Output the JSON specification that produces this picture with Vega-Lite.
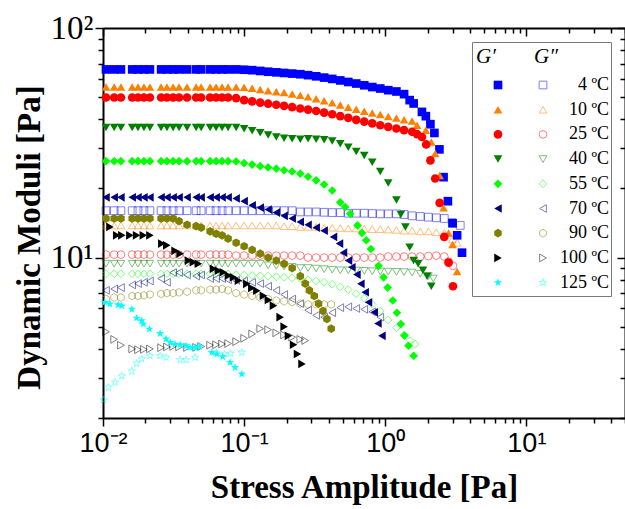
{
"$schema":"https://vega.github.io/schema/vega-lite/v6.json",
"width":522,"height":390,
"autosize":{"type":"none"},
"padding":{"left":103,"top":28,"right":0,"bottom":91},
"background":"white",
"config":{"view":{"stroke":null}},
"datasets":{
"gp":[
{"x":0.0105,"y":66,"t":4},{"x":0.012,"y":66,"t":4},{"x":0.0134,"y":66,"t":4},{"x":0.0161,"y":66,"t":4},{"x":0.0177,"y":66,"t":4},{"x":0.0195,"y":66,"t":4},{"x":0.0215,"y":66,"t":4},{"x":0.0258,"y":66,"t":4},{"x":0.0284,"y":66,"t":4},{"x":0.0314,"y":66,"t":4},{"x":0.0346,"y":66,"t":4},{"x":0.0394,"y":66,"t":4},{"x":0.0457,"y":66,"t":4},{"x":0.0496,"y":66,"t":4},{"x":0.0574,"y":66,"t":4},{"x":0.0633,"y":66,"t":4},{"x":0.0698,"y":66,"t":4},{"x":0.077,"y":66,"t":4},
{"x":0.0878,"y":66,"t":4},{"x":0.1,"y":65.8,"t":4},{"x":0.114,"y":65.5,"t":4},{"x":0.13,"y":65,"t":4},{"x":0.148,"y":64.5,"t":4},{"x":0.169,"y":64.1,"t":4},{"x":0.192,"y":63.7,"t":4},{"x":0.219,"y":63.3,"t":4},{"x":0.25,"y":62.9,"t":4},{"x":0.284,"y":62.3,"t":4},{"x":0.324,"y":61.6,"t":4},{"x":0.369,"y":60.8,"t":4},{"x":0.421,"y":60,"t":4},{"x":0.48,"y":59.1,"t":4},{"x":0.547,"y":58.2,"t":4},{"x":0.623,"y":57.3,"t":4},{"x":0.71,"y":56.3,"t":4},{"x":0.809,"y":55.3,"t":4},{"x":0.922,"y":54.5,"t":4},{"x":1.05,"y":53.6,"t":4},{"x":1.2,"y":52.9,"t":4},{"x":1.36,"y":51.5,"t":4},
{"x":1.49,"y":48.5,"t":4},{"x":1.59,"y":46.9,"t":4},{"x":1.82,"y":43.1,"t":4},{"x":1.94,"y":41.3,"t":4},{"x":2.09,"y":38.1,"t":4},{"x":2.23,"y":34.9,"t":4},{"x":2.42,"y":29.6,"t":4},{"x":2.59,"y":22.4,"t":4},{"x":2.78,"y":17.6,"t":4},{"x":3.0,"y":14.1,"t":4},{"x":3.23,"y":12.5,"t":4},{"x":3.5,"y":10.5,"t":4},
{"x":0.0105,"y":55.4,"t":10},{"x":0.012,"y":55.4,"t":10},{"x":0.0134,"y":55.4,"t":10},{"x":0.0161,"y":55.4,"t":10},{"x":0.0177,"y":55.4,"t":10},{"x":0.0195,"y":55.4,"t":10},{"x":0.0215,"y":55.4,"t":10},{"x":0.0258,"y":55.4,"t":10},{"x":0.0284,"y":55.4,"t":10},{"x":0.0314,"y":55.4,"t":10},{"x":0.0346,"y":55.4,"t":10},{"x":0.0394,"y":55.4,"t":10},{"x":0.0457,"y":55.4,"t":10},{"x":0.0496,"y":55.4,"t":10},{"x":0.0574,"y":55.4,"t":10},{"x":0.0633,"y":55.4,"t":10},{"x":0.0698,"y":55.4,"t":10},{"x":0.077,"y":55.4,"t":10},
{"x":0.0878,"y":55.3,"t":10},{"x":0.1,"y":55.2,"t":10},{"x":0.114,"y":54.6,"t":10},{"x":0.13,"y":54,"t":10},{"x":0.148,"y":53.3,"t":10},{"x":0.169,"y":52.8,"t":10},{"x":0.192,"y":52.3,"t":10},{"x":0.219,"y":51.6,"t":10},{"x":0.25,"y":51,"t":10},{"x":0.284,"y":50.2,"t":10},{"x":0.324,"y":49.2,"t":10},{"x":0.369,"y":48.2,"t":10},{"x":0.421,"y":47.2,"t":10},{"x":0.48,"y":46.2,"t":10},{"x":0.547,"y":45.2,"t":10},{"x":0.623,"y":44.3,"t":10},{"x":0.71,"y":43.4,"t":10},{"x":0.809,"y":42.6,"t":10},{"x":0.922,"y":42,"t":10},{"x":1.05,"y":41.2,"t":10},{"x":1.2,"y":40.5,"t":10},{"x":1.36,"y":39.8,"t":10},
{"x":1.55,"y":39.3,"t":10},{"x":1.68,"y":37.7,"t":10},{"x":1.94,"y":35.9,"t":10},{"x":2.12,"y":31.9,"t":10},{"x":2.26,"y":28.4,"t":10},{"x":2.43,"y":22.8,"t":10},{"x":2.59,"y":16.5,"t":10},{"x":2.81,"y":12.8,"t":10},{"x":3.0,"y":11.4,"t":10},{"x":3.23,"y":8.7,"t":10},
{"x":0.0105,"y":49.8,"t":25},{"x":0.012,"y":49.8,"t":25},{"x":0.0134,"y":49.8,"t":25},{"x":0.0161,"y":49.8,"t":25},{"x":0.0177,"y":49.8,"t":25},{"x":0.0195,"y":49.8,"t":25},{"x":0.0215,"y":49.8,"t":25},{"x":0.0258,"y":49.8,"t":25},{"x":0.0284,"y":49.8,"t":25},{"x":0.0314,"y":49.8,"t":25},{"x":0.0346,"y":49.8,"t":25},{"x":0.0394,"y":49.8,"t":25},{"x":0.0457,"y":49.8,"t":25},{"x":0.0496,"y":49.8,"t":25},{"x":0.0574,"y":49.8,"t":25},{"x":0.0633,"y":49.8,"t":25},{"x":0.0698,"y":49.8,"t":25},{"x":0.077,"y":49.8,"t":25},
{"x":0.0878,"y":49.5,"t":25},{"x":0.1,"y":48.5,"t":25},{"x":0.114,"y":47.9,"t":25},{"x":0.13,"y":47.3,"t":25},{"x":0.148,"y":46.8,"t":25},{"x":0.169,"y":46.3,"t":25},{"x":0.192,"y":45.8,"t":25},{"x":0.219,"y":45.2,"t":25},{"x":0.25,"y":44.6,"t":25},{"x":0.284,"y":44.1,"t":25},{"x":0.324,"y":43.5,"t":25},{"x":0.369,"y":42.8,"t":25},{"x":0.421,"y":42.1,"t":25},{"x":0.48,"y":41.3,"t":25},{"x":0.547,"y":40.6,"t":25},{"x":0.623,"y":39.8,"t":25},{"x":0.71,"y":39.1,"t":25},{"x":0.809,"y":38.4,"t":25},{"x":0.922,"y":37.7,"t":25},{"x":1.05,"y":37.1,"t":25},{"x":1.2,"y":36.5,"t":25},{"x":1.36,"y":35.9,"t":25},{"x":1.55,"y":35.3,"t":25},{"x":1.68,"y":34.5,"t":25},
{"x":1.82,"y":33.5,"t":25},{"x":1.95,"y":31.1,"t":25},{"x":2.09,"y":26.5,"t":25},{"x":2.26,"y":22.1,"t":25},{"x":2.43,"y":17.3,"t":25},{"x":2.62,"y":12.3,"t":25},{"x":2.81,"y":9.5,"t":25},{"x":3.02,"y":7.5,"t":25},
{"x":0.0105,"y":36.9,"t":40},{"x":0.012,"y":36.9,"t":40},{"x":0.0134,"y":36.9,"t":40},{"x":0.0161,"y":36.9,"t":40},{"x":0.0177,"y":36.9,"t":40},{"x":0.0195,"y":36.9,"t":40},{"x":0.0215,"y":36.9,"t":40},{"x":0.0258,"y":36.9,"t":40},{"x":0.0284,"y":36.9,"t":40},{"x":0.0314,"y":36.9,"t":40},{"x":0.0346,"y":36.9,"t":40},{"x":0.0394,"y":36.9,"t":40},{"x":0.0457,"y":36.9,"t":40},{"x":0.0496,"y":36.9,"t":40},{"x":0.0574,"y":36.9,"t":40},{"x":0.0633,"y":36.9,"t":40},{"x":0.0698,"y":36.9,"t":40},{"x":0.077,"y":36.9,"t":40},
{"x":0.0878,"y":36.9,"t":40},{"x":0.1,"y":36.4,"t":40},{"x":0.114,"y":35.7,"t":40},{"x":0.13,"y":35,"t":40},{"x":0.148,"y":34.2,"t":40},{"x":0.169,"y":33.5,"t":40},{"x":0.192,"y":33.1,"t":40},{"x":0.219,"y":32.9,"t":40},{"x":0.25,"y":32.8,"t":40},{"x":0.284,"y":32.9,"t":40},{"x":0.324,"y":32.8,"t":40},{"x":0.369,"y":32.6,"t":40},{"x":0.421,"y":32.2,"t":40},{"x":0.48,"y":31.3,"t":40},{"x":0.547,"y":30.2,"t":40},{"x":0.623,"y":29,"t":40},{"x":0.71,"y":27.8,"t":40},{"x":0.809,"y":26,"t":40},{"x":0.922,"y":23.7,"t":40},{"x":1.05,"y":21.1,"t":40},{"x":1.2,"y":17.8,"t":40},
{"x":1.29,"y":15.4,"t":40},{"x":1.39,"y":13.6,"t":40},{"x":1.49,"y":11.1,"t":40},{"x":1.59,"y":9.7,"t":40},{"x":1.71,"y":9.4,"t":40},{"x":1.85,"y":8.8,"t":40},{"x":1.98,"y":8.3,"t":40},{"x":2.12,"y":7.5,"t":40},
{"x":0.0105,"y":26.3,"t":55},{"x":0.012,"y":26.3,"t":55},{"x":0.0134,"y":26.3,"t":55},{"x":0.0161,"y":26.3,"t":55},{"x":0.0177,"y":26.3,"t":55},{"x":0.0195,"y":26.3,"t":55},{"x":0.0215,"y":26.3,"t":55},{"x":0.0258,"y":26.3,"t":55},{"x":0.0284,"y":26.3,"t":55},{"x":0.0314,"y":26.3,"t":55},{"x":0.0346,"y":26.3,"t":55},{"x":0.0394,"y":26.3,"t":55},{"x":0.0457,"y":26.3,"t":55},{"x":0.0496,"y":26.3,"t":55},{"x":0.0574,"y":26.3,"t":55},{"x":0.0633,"y":26.3,"t":55},{"x":0.0698,"y":26.3,"t":55},{"x":0.077,"y":26.3,"t":55},
{"x":0.0878,"y":26.2,"t":55},{"x":0.1,"y":25.8,"t":55},{"x":0.114,"y":25.4,"t":55},{"x":0.13,"y":25,"t":55},{"x":0.148,"y":24.7,"t":55},{"x":0.169,"y":24.4,"t":55},{"x":0.192,"y":24,"t":55},{"x":0.219,"y":23.7,"t":55},{"x":0.25,"y":23.2,"t":55},{"x":0.284,"y":22.5,"t":55},{"x":0.324,"y":21.7,"t":55},{"x":0.369,"y":20.8,"t":55},{"x":0.421,"y":19.6,"t":55},
{"x":0.48,"y":17.4,"t":55},{"x":0.52,"y":16.6,"t":55},{"x":0.565,"y":15.5,"t":55},{"x":0.636,"y":13.8,"t":55},{"x":0.684,"y":12.8,"t":55},{"x":0.733,"y":11.9,"t":55},{"x":0.791,"y":10.9,"t":55},{"x":0.897,"y":9.2,"t":55},{"x":0.973,"y":8.2,"t":55},{"x":1.04,"y":7.4,"t":55},{"x":1.13,"y":6.5,"t":55},{"x":1.21,"y":5.75,"t":55},{"x":1.29,"y":5.13,"t":55},{"x":1.37,"y":4.57,"t":55},{"x":1.46,"y":4.13,"t":55},{"x":1.59,"y":3.73,"t":55},
{"x":0.0105,"y":18.3,"t":70},{"x":0.012,"y":18.3,"t":70},{"x":0.0134,"y":18.3,"t":70},{"x":0.0161,"y":18.3,"t":70},{"x":0.0177,"y":18.3,"t":70},{"x":0.0195,"y":18.3,"t":70},{"x":0.0215,"y":18.3,"t":70},{"x":0.0258,"y":18.3,"t":70},{"x":0.0284,"y":18.3,"t":70},{"x":0.0314,"y":18.3,"t":70},{"x":0.0346,"y":18.3,"t":70},{"x":0.0394,"y":18.3,"t":70},{"x":0.0457,"y":18.3,"t":70},{"x":0.0496,"y":18.3,"t":70},{"x":0.0574,"y":18.3,"t":70},{"x":0.0633,"y":18.3,"t":70},{"x":0.0698,"y":18.3,"t":70},{"x":0.077,"y":18.3,"t":70},
{"x":0.0878,"y":18.1,"t":70},{"x":0.1,"y":17.6,"t":70},{"x":0.114,"y":16.9,"t":70},{"x":0.13,"y":16.5,"t":70},{"x":0.148,"y":16.2,"t":70},{"x":0.169,"y":15.7,"t":70},{"x":0.192,"y":15.2,"t":70},{"x":0.219,"y":14.8,"t":70},{"x":0.25,"y":14.3,"t":70},{"x":0.284,"y":13.9,"t":70},{"x":0.324,"y":13.5,"t":70},{"x":0.369,"y":13.1,"t":70},
{"x":0.43,"y":12.3,"t":70},{"x":0.474,"y":11.5,"t":70},{"x":0.506,"y":10.5,"t":70},{"x":0.549,"y":9.7,"t":70},{"x":0.58,"y":9.07,"t":70},{"x":0.63,"y":8.43,"t":70},{"x":0.672,"y":7.68,"t":70},{"x":0.721,"y":7.06,"t":70},{"x":0.761,"y":6.38,"t":70},{"x":0.836,"y":5.77,"t":70},{"x":0.888,"y":5.16,"t":70},{"x":0.948,"y":4.56,"t":70},
{"x":0.0105,"y":14.8,"t":90},{"x":0.012,"y":14.8,"t":90},{"x":0.0134,"y":14.8,"t":90},{"x":0.0161,"y":14.8,"t":90},{"x":0.0177,"y":14.8,"t":90},{"x":0.0195,"y":14.8,"t":90},{"x":0.0215,"y":14.8,"t":90},{"x":0.0258,"y":14.8,"t":90},{"x":0.0284,"y":14.8,"t":90},{"x":0.0314,"y":14.8,"t":90},{"x":0.0346,"y":14.4,"t":90},{"x":0.0394,"y":13.9,"t":90},{"x":0.0457,"y":13.7,"t":90},{"x":0.0496,"y":13.5,"t":90},{"x":0.0574,"y":13,"t":90},{"x":0.0633,"y":12.7,"t":90},{"x":0.0698,"y":12.5,"t":90},{"x":0.077,"y":12.1,"t":90},{"x":0.0878,"y":11.6,"t":90},{"x":0.1,"y":11.2,"t":90},{"x":0.114,"y":10.8,"t":90},{"x":0.13,"y":10.4,"t":90},{"x":0.148,"y":10,"t":90},{"x":0.169,"y":9.7,"t":90},{"x":0.192,"y":9.4,"t":90},{"x":0.219,"y":9,"t":90},{"x":0.25,"y":8.3,"t":90},{"x":0.271,"y":7.7,"t":90},{"x":0.29,"y":7.2,"t":90},{"x":0.314,"y":6.8,"t":90},{"x":0.337,"y":6.3,"t":90},{"x":0.362,"y":5.85,"t":90},{"x":0.386,"y":5.4,"t":90},{"x":0.414,"y":4.9,"t":90},
{"x":0.0112,"y":13.6,"t":100},{"x":0.0125,"y":12.5,"t":100},{"x":0.0136,"y":12.5,"t":100},{"x":0.0155,"y":12.5,"t":100},{"x":0.0173,"y":12.5,"t":100},{"x":0.0193,"y":12.5,"t":100},{"x":0.0215,"y":12.5,"t":100},{"x":0.0261,"y":11.5,"t":100},{"x":0.0283,"y":11.3,"t":100},{"x":0.0324,"y":10.7,"t":100},{"x":0.0352,"y":10.4,"t":100},{"x":0.0403,"y":9.7,"t":100},{"x":0.0437,"y":9.55,"t":100},{"x":0.0474,"y":9.4,"t":100},{"x":0.0606,"y":8.93,"t":100},{"x":0.0657,"y":8.77,"t":100},{"x":0.0713,"y":8.63,"t":100},{"x":0.0774,"y":8.35,"t":100},{"x":0.084,"y":8.2,"t":100},{"x":0.0911,"y":7.94,"t":100},{"x":0.1045,"y":7.68,"t":100},{"x":0.1134,"y":7.37,"t":100},{"x":0.1231,"y":7.17,"t":100},{"x":0.1371,"y":6.82,"t":100},{"x":0.1487,"y":6.53,"t":100},{"x":0.1614,"y":6.17,"t":100},{"x":0.18,"y":5.5,"t":100},{"x":0.192,"y":5.0,"t":100},{"x":0.206,"y":4.56,"t":100},{"x":0.224,"y":4.17,"t":100},{"x":0.239,"y":3.8,"t":100},{"x":0.257,"y":3.44,"t":100},
{"x":0.0103,"y":6.38,"t":125},{"x":0.0112,"y":6.28,"t":125},{"x":0.0128,"y":6.23,"t":125},{"x":0.0136,"y":6.16,"t":125},{"x":0.016,"y":5.96,"t":125},{"x":0.0173,"y":5.45,"t":125},{"x":0.0188,"y":5.31,"t":125},{"x":0.0193,"y":5.13,"t":125},{"x":0.0213,"y":4.88,"t":125},{"x":0.0254,"y":4.67,"t":125},{"x":0.028,"y":4.42,"t":125},{"x":0.0299,"y":4.27,"t":125},{"x":0.0324,"y":4.2,"t":125},{"x":0.0352,"y":4.17,"t":125},{"x":0.0388,"y":4.13,"t":125},{"x":0.0414,"y":4.06,"t":125},{"x":0.0449,"y":4.06,"t":125},{"x":0.0482,"y":4.09,"t":125},{"x":0.059,"y":3.86,"t":125},{"x":0.064,"y":3.8,"t":125},{"x":0.0706,"y":3.7,"t":125},{"x":0.0796,"y":3.49,"t":125},{"x":0.0864,"y":3.32,"t":125},{"x":0.0963,"y":3.11,"t":125}
],
"gd":[
{"x":0.0105,"y":16,"t":4},{"x":0.012,"y":16,"t":4},{"x":0.0134,"y":16,"t":4},{"x":0.0161,"y":16,"t":4},{"x":0.0177,"y":16,"t":4},{"x":0.0195,"y":16,"t":4},{"x":0.0215,"y":16,"t":4},{"x":0.0258,"y":16,"t":4},{"x":0.0284,"y":16,"t":4},{"x":0.0314,"y":16,"t":4},{"x":0.0346,"y":16,"t":4},{"x":0.0394,"y":16,"t":4},{"x":0.0457,"y":16,"t":4},{"x":0.0496,"y":16,"t":4},{"x":0.0574,"y":16,"t":4},{"x":0.0633,"y":16,"t":4},{"x":0.0698,"y":16,"t":4},{"x":0.077,"y":16,"t":4},
{"x":0.0878,"y":16,"t":4},{"x":0.1,"y":16,"t":4},{"x":0.114,"y":16,"t":4},{"x":0.13,"y":16,"t":4},{"x":0.148,"y":16,"t":4},{"x":0.169,"y":16,"t":4},{"x":0.192,"y":16,"t":4},{"x":0.219,"y":16,"t":4},{"x":0.25,"y":15.8,"t":4},{"x":0.284,"y":15.8,"t":4},{"x":0.324,"y":15.8,"t":4},{"x":0.369,"y":15.75,"t":4},{"x":0.421,"y":15.7,"t":4},{"x":0.48,"y":15.7,"t":4},{"x":0.547,"y":15.6,"t":4},{"x":0.623,"y":15.6,"t":4},{"x":0.71,"y":15.6,"t":4},{"x":0.809,"y":15.55,"t":4},{"x":0.922,"y":15.5,"t":4},{"x":1.05,"y":15.5,"t":4},{"x":1.2,"y":15.5,"t":4},{"x":1.36,"y":15.4,"t":4},{"x":1.55,"y":15.2,"t":4},{"x":1.77,"y":15.1,"t":4},{"x":2.02,"y":15,"t":4},{"x":2.3,"y":14.9,"t":4},{"x":2.62,"y":14.8,"t":4},{"x":2.99,"y":14.2,"t":4},{"x":3.4,"y":13.8,"t":4},
{"x":0.0105,"y":13.8,"t":10},{"x":0.012,"y":13.8,"t":10},{"x":0.0134,"y":13.8,"t":10},{"x":0.0161,"y":13.8,"t":10},{"x":0.0177,"y":13.8,"t":10},{"x":0.0195,"y":13.8,"t":10},{"x":0.0215,"y":13.8,"t":10},{"x":0.0258,"y":13.8,"t":10},{"x":0.0284,"y":13.8,"t":10},{"x":0.0314,"y":13.8,"t":10},{"x":0.0346,"y":13.8,"t":10},{"x":0.0394,"y":13.8,"t":10},{"x":0.0457,"y":13.8,"t":10},{"x":0.0496,"y":13.8,"t":10},{"x":0.0574,"y":13.8,"t":10},{"x":0.0633,"y":13.8,"t":10},{"x":0.0698,"y":13.8,"t":10},{"x":0.077,"y":13.8,"t":10},
{"x":0.0878,"y":13.8,"t":10},{"x":0.1,"y":13.8,"t":10},{"x":0.114,"y":13.8,"t":10},{"x":0.13,"y":13.8,"t":10},{"x":0.148,"y":13.8,"t":10},{"x":0.169,"y":13.8,"t":10},{"x":0.192,"y":13.7,"t":10},{"x":0.219,"y":13.7,"t":10},{"x":0.25,"y":13.6,"t":10},{"x":0.284,"y":13.6,"t":10},{"x":0.324,"y":13.6,"t":10},{"x":0.369,"y":13.5,"t":10},{"x":0.421,"y":13.5,"t":10},{"x":0.48,"y":13.45,"t":10},{"x":0.547,"y":13.4,"t":10},{"x":0.623,"y":13.4,"t":10},{"x":0.71,"y":13.35,"t":10},{"x":0.809,"y":13.3,"t":10},{"x":0.922,"y":13.3,"t":10},{"x":1.05,"y":13.25,"t":10},{"x":1.2,"y":13.2,"t":10},{"x":1.36,"y":13.1,"t":10},{"x":1.55,"y":13.1,"t":10},{"x":1.77,"y":13,"t":10},{"x":2.02,"y":13,"t":10},{"x":2.3,"y":12.9,"t":10},{"x":2.62,"y":12.8,"t":10},{"x":2.99,"y":12,"t":10},{"x":3.24,"y":11.6,"t":10},
{"x":0.0105,"y":10.3,"t":25},{"x":0.012,"y":10.3,"t":25},{"x":0.0134,"y":10.3,"t":25},{"x":0.0161,"y":10.3,"t":25},{"x":0.0177,"y":10.3,"t":25},{"x":0.0195,"y":10.3,"t":25},{"x":0.0215,"y":10.3,"t":25},{"x":0.0258,"y":10.3,"t":25},{"x":0.0284,"y":10.3,"t":25},{"x":0.0314,"y":10.3,"t":25},{"x":0.0346,"y":10.3,"t":25},{"x":0.0394,"y":10.3,"t":25},{"x":0.0457,"y":10.3,"t":25},{"x":0.0496,"y":10.3,"t":25},{"x":0.0574,"y":10.3,"t":25},{"x":0.0633,"y":10.3,"t":25},{"x":0.0698,"y":10.3,"t":25},{"x":0.077,"y":10.3,"t":25},
{"x":0.0878,"y":10.2,"t":25},{"x":0.1,"y":10.2,"t":25},{"x":0.114,"y":10.2,"t":25},{"x":0.13,"y":10.2,"t":25},{"x":0.148,"y":10.2,"t":25},{"x":0.169,"y":10.2,"t":25},{"x":0.192,"y":10.2,"t":25},{"x":0.219,"y":10.2,"t":25},{"x":0.25,"y":10.2,"t":25},{"x":0.284,"y":10,"t":25},{"x":0.324,"y":10,"t":25},{"x":0.369,"y":10,"t":25},{"x":0.421,"y":10,"t":25},{"x":0.48,"y":10,"t":25},{"x":0.547,"y":10,"t":25},{"x":0.623,"y":10,"t":25},{"x":0.71,"y":10,"t":25},{"x":0.809,"y":10,"t":25},{"x":0.922,"y":10,"t":25},{"x":1.05,"y":10.1,"t":25},{"x":1.2,"y":10.1,"t":25},{"x":1.36,"y":10.1,"t":25},{"x":1.55,"y":10.1,"t":25},{"x":1.77,"y":10.1,"t":25},{"x":2.02,"y":10.15,"t":25},{"x":2.3,"y":10.2,"t":25},{"x":2.62,"y":10.1,"t":25},{"x":2.81,"y":9.6,"t":25},{"x":3.02,"y":9.2,"t":25},
{"x":0.0105,"y":9.4,"t":40},{"x":0.012,"y":9.4,"t":40},{"x":0.0134,"y":9.4,"t":40},{"x":0.0161,"y":9.4,"t":40},{"x":0.0177,"y":9.4,"t":40},{"x":0.0195,"y":9.4,"t":40},{"x":0.0215,"y":9.4,"t":40},{"x":0.0258,"y":9.4,"t":40},{"x":0.0284,"y":9.4,"t":40},{"x":0.0314,"y":9.4,"t":40},{"x":0.0346,"y":9.4,"t":40},{"x":0.0394,"y":9.4,"t":40},{"x":0.0457,"y":9.4,"t":40},{"x":0.0496,"y":9.4,"t":40},{"x":0.0574,"y":9.4,"t":40},{"x":0.0633,"y":9.4,"t":40},{"x":0.0698,"y":9.4,"t":40},{"x":0.077,"y":9.4,"t":40},
{"x":0.0878,"y":9.4,"t":40},{"x":0.1,"y":9.4,"t":40},{"x":0.114,"y":9.4,"t":40},{"x":0.13,"y":9.4,"t":40},{"x":0.148,"y":9.25,"t":40},{"x":0.169,"y":9.2,"t":40},{"x":0.192,"y":9.15,"t":40},{"x":0.219,"y":9.1,"t":40},{"x":0.25,"y":9,"t":40},{"x":0.284,"y":9,"t":40},{"x":0.324,"y":8.95,"t":40},{"x":0.369,"y":8.9,"t":40},{"x":0.421,"y":8.85,"t":40},{"x":0.48,"y":8.8,"t":40},{"x":0.547,"y":8.8,"t":40},{"x":0.623,"y":8.78,"t":40},{"x":0.71,"y":8.75,"t":40},{"x":0.809,"y":8.72,"t":40},{"x":0.922,"y":8.7,"t":40},{"x":1.05,"y":8.68,"t":40},{"x":1.2,"y":8.66,"t":40},{"x":1.36,"y":8.64,"t":40},{"x":1.55,"y":8.6,"t":40},{"x":1.77,"y":8.5,"t":40},{"x":2.02,"y":8.3,"t":40},{"x":2.19,"y":8.1,"t":40},
{"x":0.0105,"y":8.5,"t":55},{"x":0.012,"y":8.5,"t":55},{"x":0.0134,"y":8.5,"t":55},{"x":0.0161,"y":8.5,"t":55},{"x":0.0177,"y":8.5,"t":55},{"x":0.0195,"y":8.5,"t":55},{"x":0.0215,"y":8.5,"t":55},{"x":0.0258,"y":8.5,"t":55},{"x":0.0284,"y":8.5,"t":55},{"x":0.0314,"y":8.5,"t":55},{"x":0.0346,"y":8.5,"t":55},{"x":0.0394,"y":8.5,"t":55},{"x":0.0457,"y":8.5,"t":55},{"x":0.0496,"y":8.5,"t":55},{"x":0.0574,"y":8.5,"t":55},{"x":0.0633,"y":8.5,"t":55},{"x":0.0698,"y":8.5,"t":55},{"x":0.077,"y":8.5,"t":55},
{"x":0.0878,"y":8.4,"t":55},{"x":0.1,"y":8.38,"t":55},{"x":0.114,"y":8.36,"t":55},{"x":0.13,"y":8.33,"t":55},{"x":0.148,"y":8.3,"t":55},{"x":0.169,"y":8.25,"t":55},{"x":0.192,"y":8.2,"t":55},{"x":0.219,"y":8.15,"t":55},{"x":0.25,"y":8.1,"t":55},{"x":0.284,"y":8,"t":55},{"x":0.324,"y":7.9,"t":55},{"x":0.369,"y":7.8,"t":55},{"x":0.421,"y":7.65,"t":55},{"x":0.48,"y":7.45,"t":55},{"x":0.547,"y":7.25,"t":55},{"x":0.623,"y":6.95,"t":55},{"x":0.71,"y":6.65,"t":55},{"x":0.809,"y":6.25,"t":55},{"x":0.922,"y":5.85,"t":55},{"x":1.05,"y":5.35,"t":55},{"x":1.2,"y":4.95,"t":55},{"x":1.36,"y":4.6,"t":55},{"x":1.5,"y":4.35,"t":55},{"x":1.63,"y":4.2,"t":55},
{"x":0.0105,"y":7.2,"t":70},{"x":0.012,"y":7.3,"t":70},{"x":0.0134,"y":7.4,"t":70},{"x":0.0161,"y":7.6,"t":70},{"x":0.0177,"y":7.7,"t":70},{"x":0.0195,"y":7.8,"t":70},{"x":0.0215,"y":7.9,"t":70},{"x":0.0258,"y":8.1,"t":70},{"x":0.0284,"y":7.8,"t":70},{"x":0.0314,"y":8.6,"t":70},{"x":0.0346,"y":8.6,"t":70},{"x":0.0394,"y":8.4,"t":70},{"x":0.0457,"y":8.3,"t":70},{"x":0.0496,"y":8.4,"t":70},{"x":0.0574,"y":8.1,"t":70},{"x":0.0633,"y":8.1,"t":70},{"x":0.0698,"y":8.1,"t":70},{"x":0.077,"y":8,"t":70},
{"x":0.0878,"y":7.95,"t":70},{"x":0.1,"y":7.9,"t":70},{"x":0.114,"y":7.8,"t":70},{"x":0.13,"y":7.7,"t":70},{"x":0.148,"y":7.5,"t":70},{"x":0.169,"y":7.2,"t":70},{"x":0.192,"y":6.9,"t":70},{"x":0.219,"y":6.6,"t":70},{"x":0.25,"y":6.3,"t":70},{"x":0.284,"y":5.9,"t":70},{"x":0.324,"y":5.6,"t":70},{"x":0.369,"y":5.5,"t":70},{"x":0.421,"y":5.75,"t":70},{"x":0.48,"y":6.05,"t":70},{"x":0.547,"y":6.1,"t":70},{"x":0.623,"y":6,"t":70},{"x":0.71,"y":5.95,"t":70},{"x":0.809,"y":5.8,"t":70},{"x":0.922,"y":5.5,"t":70},
{"x":0.0105,"y":6.6,"t":90},{"x":0.012,"y":6.7,"t":90},{"x":0.0134,"y":6.7,"t":90},{"x":0.0161,"y":6.8,"t":90},{"x":0.0177,"y":6.8,"t":90},{"x":0.0195,"y":6.85,"t":90},{"x":0.0215,"y":6.9,"t":90},{"x":0.0258,"y":6.95,"t":90},{"x":0.0284,"y":7,"t":90},{"x":0.0314,"y":7,"t":90},{"x":0.0346,"y":7.05,"t":90},{"x":0.0394,"y":7.1,"t":90},{"x":0.0457,"y":7.2,"t":90},{"x":0.0496,"y":7.2,"t":90},{"x":0.0574,"y":7.25,"t":90},{"x":0.0633,"y":7.25,"t":90},{"x":0.0698,"y":7.3,"t":90},{"x":0.077,"y":7.2,"t":90},
{"x":0.0878,"y":7,"t":90},{"x":0.1,"y":6.9,"t":90},{"x":0.114,"y":6.8,"t":90},{"x":0.13,"y":6.7,"t":90},{"x":0.148,"y":6.6,"t":90},{"x":0.169,"y":6.5,"t":90},{"x":0.192,"y":6.45,"t":90},{"x":0.219,"y":6.4,"t":90},{"x":0.25,"y":6.3,"t":90},{"x":0.284,"y":6.25,"t":90},{"x":0.324,"y":6.25,"t":90},{"x":0.369,"y":6.25,"t":90},{"x":0.414,"y":6.25,"t":90},
{"x":0.0105,"y":4.75,"t":100},{"x":0.012,"y":4.4,"t":100},{"x":0.0134,"y":4.15,"t":100},{"x":0.0161,"y":4.0,"t":100},{"x":0.0177,"y":3.97,"t":100},{"x":0.0195,"y":3.98,"t":100},{"x":0.0215,"y":4.0,"t":100},{"x":0.0258,"y":4.05,"t":100},{"x":0.0284,"y":4.08,"t":100},{"x":0.0314,"y":4.1,"t":100},{"x":0.0346,"y":4.08,"t":100},{"x":0.0394,"y":4.06,"t":100},{"x":0.0457,"y":4.06,"t":100},{"x":0.0496,"y":4.1,"t":100},{"x":0.0574,"y":4.15,"t":100},{"x":0.0633,"y":4.17,"t":100},{"x":0.0698,"y":4.2,"t":100},{"x":0.077,"y":4.22,"t":100},
{"x":0.0878,"y":4.3,"t":100},{"x":0.1,"y":4.45,"t":100},{"x":0.114,"y":4.65,"t":100},{"x":0.13,"y":4.9,"t":100},{"x":0.148,"y":4.85,"t":100},{"x":0.169,"y":4.7,"t":100},{"x":0.192,"y":4.6,"t":100},{"x":0.219,"y":4.5,"t":100},{"x":0.25,"y":4.4,"t":100},{"x":0.271,"y":4.35,"t":100},
{"x":0.0101,"y":2.4,"t":125},{"x":0.0109,"y":2.72,"t":125},{"x":0.0122,"y":2.86,"t":125},{"x":0.0136,"y":3.05,"t":125},{"x":0.016,"y":3.2,"t":125},{"x":0.0173,"y":3.46,"t":125},{"x":0.0188,"y":3.62,"t":125},{"x":0.0215,"y":3.73,"t":125},{"x":0.0254,"y":3.73,"t":125},{"x":0.028,"y":3.67,"t":125},{"x":0.0352,"y":3.58,"t":125},{"x":0.0388,"y":3.58,"t":125},{"x":0.0449,"y":3.67,"t":125},{"x":0.0633,"y":3.86,"t":125},{"x":0.0726,"y":3.8,"t":125},{"x":0.0801,"y":3.82,"t":125},{"x":0.0963,"y":3.86,"t":125}
]},
"layer":[
{"data":{"name":"gd"},
 "mark":{"type":"point","filled":false,"strokeWidth":1,"opacity":0.5,"size":60},
 "encoding":{
  "x":{"field":"x","type":"quantitative","scale":{"type":"log","domain":[0.01,50],"nice":false},
   "axis":{"orient":"bottom","values":[0.01,0.02,0.03,0.04,0.05,0.06,0.07,0.08,0.09,0.1,0.2,0.3,0.4,0.5,0.6,0.7,0.8,0.9,1,2,3,4,5,6,7,8,9,10,20,30,40,50],
    "labelExpr":"datum.value == 0.01 ? '10⁻²' : datum.value == 0.1 ? '10⁻¹' : datum.value == 1 ? '10⁰' : datum.value == 10 ? '10¹' : ''",
    "labelFont":"Liberation Sans","labelFontSize":27,"labelColor":"black","labelPadding":4,"labelOverlap":false,"labelFlush":false,"labelBound":false,
    "tickColor":"black","tickWidth":1.5,"tickSize":{"condition":{"test":"datum.value == 0.01 || datum.value == 0.1 || datum.value == 1 || datum.value == 10","value":8},"value":5},
    "domainColor":"black","domainWidth":2,"grid":false,
    "title":"Stress Amplitude [Pa]","titleFont":"Liberation Serif","titleFontSize":33,"titleFontWeight":"bold","titleColor":"black","titlePadding":15}},
  "y":{"field":"y","type":"quantitative","scale":{"type":"log","domain":[2,100],"nice":false},
   "axis":{"orient":"left","values":[2,3,4,5,6,7,8,9,10,20,30,40,50,60,70,80,90,100],
    "labelExpr":"datum.value == 100 ? '10²' : datum.value == 10 ? '10¹' : ''",
    "labelFont":"Liberation Serif","labelFontSize":33,"labelColor":"black","labelPadding":2,"labelOverlap":false,"labelFlush":false,"labelBound":false,
    "tickColor":"black","tickWidth":1.5,"tickSize":{"condition":{"test":"datum.value == 10 || datum.value == 100","value":8},"value":5},
    "domainColor":"black","domainWidth":2,"grid":false,
    "title":"Dynamic Moduli [Pa]","titleFont":"Liberation Serif","titleFontSize":33,"titleFontWeight":"bold","titleColor":"black","titlePadding":4,"titleY":209}},
  "color":{"field":"t","type":"nominal",
   "scale":{"domain":[4,10,25,40,55,70,90,100,125],"range":["#0000ff","#ff8000","#ff0000","#008000","#00ff00","#000080","#808000","#000000","#00ffff"]},
   "legend":{"title":"G″","orient":"none","legendX":431,"legendY":18,"padding":0,"symbolOffset":0,"symbolSize":60,"symbolStrokeWidth":1,
    "labelExpr":"datum.label + ' ºC'","labelAlign":"right","labelOffset":57,"labelFont":"Liberation Serif","labelFontSize":18,"labelColor":"black","labelLimit":0,
    "titleFont":"Liberation Serif","titleFontStyle":"italic","titleFontWeight":"normal","titleFontSize":21,"titleColor":"black","titlePadding":9,"rowPadding":6.7}},
  "shape":{"field":"t","type":"nominal",
   "scale":{"domain":[4,10,25,40,55,70,90,100,125],"range":["square","triangle-up","circle","triangle-down","diamond","triangle-left","M0,-1L0.866,-0.5L0.866,0.5L0,1L-0.866,0.5L-0.866,-0.5Z","triangle-right","M0,-1L0.235,-0.324L0.951,-0.309L0.38,0.124L0.588,0.809L0,0.4L-0.588,0.809L-0.38,0.124L-0.951,-0.309L-0.235,-0.324Z"]},
   "legend":{"title":"G″","orient":"none","legendX":431,"legendY":18,"padding":0,"symbolOffset":0,"symbolSize":60,"symbolStrokeWidth":1,
    "labelExpr":"datum.label + ' ºC'","labelAlign":"right","labelOffset":57,"labelFont":"Liberation Serif","labelFontSize":18,"labelColor":"black","labelLimit":0,
    "titleFont":"Liberation Serif","titleFontStyle":"italic","titleFontWeight":"normal","titleFontSize":21,"titleColor":"black","titlePadding":9,"rowPadding":6.7}}
 }},
{"data":{"name":"gp"},
 "mark":{"type":"point","filled":true,"opacity":1,"size":75,"strokeWidth":0},
 "encoding":{
  "x":{"field":"x","type":"quantitative","axis":null},
  "y":{"field":"y","type":"quantitative","axis":null},
  "color":{"field":"t","type":"nominal",
   "scale":{"domain":[4,10,25,40,55,70,90,100,125],"range":["#0000ff","#ff8000","#ff0000","#008000","#00ff00","#000080","#808000","#000000","#00ffff"]},
   "legend":{"title":"\u2002\u2002G′","orient":"none","legendX":369,"legendY":14,"padding":4,"strokeColor":"#7a7a7a","symbolOffset":13,"symbolSize":75,
    "labelExpr":"''","labelOpacity":0,"labelOffset":100,"labelFont":"Liberation Serif","labelFontSize":18,"labelLimit":0,
    "titleFont":"Liberation Serif","titleFontStyle":"italic","titleFontWeight":"normal","titleFontSize":21,"titleColor":"black","titlePadding":9,"rowPadding":6.7}},
  "shape":{"field":"t","type":"nominal",
   "scale":{"domain":[4,10,25,40,55,70,90,100,125],"range":["square","triangle-up","circle","triangle-down","diamond","triangle-left","M0,-1L0.866,-0.5L0.866,0.5L0,1L-0.866,0.5L-0.866,-0.5Z","triangle-right","M0,-1L0.235,-0.324L0.951,-0.309L0.38,0.124L0.588,0.809L0,0.4L-0.588,0.809L-0.38,0.124L-0.951,-0.309L-0.235,-0.324Z"]},
   "legend":{"title":"\u2002\u2002G′","orient":"none","legendX":369,"legendY":14,"padding":4,"strokeColor":"#7a7a7a","symbolOffset":13,"symbolSize":75,
    "labelExpr":"''","labelOpacity":0,"labelOffset":100,"labelFont":"Liberation Serif","labelFontSize":18,"labelLimit":0,
    "titleFont":"Liberation Serif","titleFontStyle":"italic","titleFontWeight":"normal","titleFontSize":21,"titleColor":"black","titlePadding":9,"rowPadding":6.7}}
 }},
{"data":{"name":"gp"},
 "mark":{"type":"point","opacity":0},
 "encoding":{
  "x":{"field":"x","type":"quantitative",
   "axis":{"orient":"top","values":[0.01,0.02,0.03,0.04,0.05,0.06,0.07,0.08,0.09,0.1,0.2,0.3,0.4,0.5,0.6,0.7,0.8,0.9,1,2,3,4,5,6,7,8,9,10,20,30,40,50],
    "labels":false,"title":null,"grid":false,"domainColor":"black","domainWidth":2,"tickColor":"black","tickWidth":1.5,
    "tickSize":{"condition":{"test":"datum.value == 0.01 || datum.value == 0.1 || datum.value == 1 || datum.value == 10","value":-8},"value":-5}}},
  "y":{"field":"y","type":"quantitative",
   "axis":{"orient":"right","values":[2,3,4,5,6,7,8,9,10,20,30,40,50,60,70,80,90,100],
    "labels":false,"title":null,"grid":false,"domainColor":"black","domainWidth":2,"tickColor":"black","tickWidth":1.5,
    "tickSize":{"condition":{"test":"datum.value == 10 || datum.value == 100","value":-8},"value":-5}}}
 }}
],
"resolve":{"scale":{"color":"independent","shape":"independent"},"axis":{"x":"independent","y":"independent"}}
}
